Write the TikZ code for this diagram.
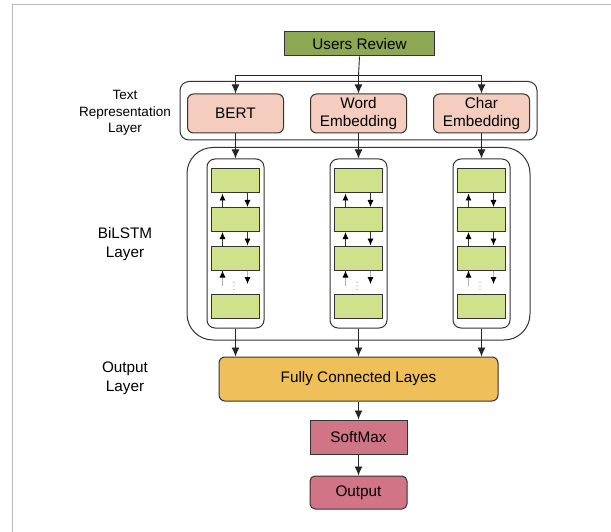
\documentclass[tikz,border=0pt]{standalone}
\usepackage{fontspec}
\setmainfont{Liberation Sans}
\usetikzlibrary{arrows.meta,positioning}

\definecolor{reviewgreen}{RGB}{141,168,82}
\definecolor{embpeach}{RGB}{244,205,190}
\definecolor{cellgreen}{RGB}{208,225,140}
\definecolor{fcorange}{RGB}{239,191,90}
\definecolor{outpink}{RGB}{208,116,134}
\definecolor{edgegray}{RGB}{51,51,51}

\begin{document}
\begin{tikzpicture}[x=1pt, y=-1pt,
  every node/.style={font=\fontsize{15.3}{18}\selectfont, text=black, align=center},
  box/.style={draw=edgegray, line width=1pt, inner sep=0pt},
  embbox/.style={box, rounded corners=6pt, fill=embpeach, minimum width=96pt, minimum height=39pt},
  cell/.style={box, fill=cellgreen, minimum width=48pt, minimum height=24pt},
  column/.style={draw=edgegray, line width=1pt, rounded corners=8pt, minimum width=57pt, minimum height=169pt, inner sep=0pt},
  smalllabel/.style={font=\fontsize{13.5}{16.7}\selectfont},
  layerlabel/.style={font=\fontsize{15.3}{19}\selectfont},
  arr/.style={-{Latex[length=9pt,width=8pt]}, line width=0.9pt, draw=black!85},
  cellarr/.style={-{Latex[length=7pt,width=6pt,black]}, line width=0.8pt, draw=black!80}]
  \useasboundingbox (0,0) rectangle (611,532);
  % frame
  \draw[gray!55, line width=1.8pt] (12.5,532) -- (12.5,4.5) -- (611,4.5);

  % layer names
  \node[smalllabel] (lbltext) at (125,113) {Text\\Representation\\Layer};
  \node[layerlabel] (lblbilstm) at (125,244) {BiLSTM\\Layer};
  \node[layerlabel] (lblout) at (125,378) {Output\\Layer};

  % input
  \node[box, fill=reviewgreen, minimum width=150pt, minimum height=24pt] (review) at (359.5,44) {Users Review};

  % text representation
  \draw[edgegray, line width=1pt, rounded corners=9pt] (180,81.5) rectangle (537,140);
  \node[embbox] (bert) at (235.5,113.5) {BERT};
  \node[embbox] (word) at (358.5,113.5) {Word\\Embedding};
  \node[embbox] (char) at (481.5,113.5) {Char\\Embedding};
  \coordinate (split) at (358.5,75.5);
  \draw[line width=0.9pt, black!85] (review.south) -- (split);
  \draw[arr] (split) -| (bert.north);
  \draw[arr] (split) -- (word.north);
  \draw[arr] (split) -| (char.north);

  % bilstm
  \draw[edgegray, line width=1pt, rounded corners=26pt] (187,147.5) rectangle (530,340);
  \foreach \x/\n in {235.5/1, 358.5/2, 481.5/3} {
    \node[column] (col\n) at (\x,243.5) {};
    \node[cell] (c\n-1) at (\x,181) {};
    \node[cell] (c\n-2) at (\x,219.5) {};
    \node[cell] (c\n-3) at (\x,258) {};
    \node[cell] (c\n-4) at (\x,306) {};
    % forward / backward passes
    \draw[cellarr] ([xshift=-13pt]c\n-2.north) -- ([xshift=-13pt]c\n-1.south);
    \draw[cellarr] ([xshift=12pt]c\n-1.south) -- ([xshift=12pt]c\n-2.north);
    \draw[cellarr] ([xshift=-13pt]c\n-3.north) -- ([xshift=-13pt]c\n-2.south);
    \draw[cellarr] ([xshift=12pt]c\n-2.south) -- ([xshift=12pt]c\n-3.north);
    \coordinate (up\n) at (\x-13,286);
    \coordinate (down\n) at (\x+12,284);
    \draw[cellarr, draw=gray!60] (up\n) -- ([xshift=-13pt]c\n-3.south);
    \draw[cellarr, draw=gray!60] ([xshift=12pt]c\n-3.south) -- (down\n);
    \foreach \d in {282.5,286,289.5}
      \fill[gray!80] (\x-1.5,\d) circle (0.7pt);
  }
  \draw[arr] (bert) -- (col1);
  \draw[arr] (word) -- (col2);
  \draw[arr] (char) -- (col3);

  % output
  \node[box, rounded corners=6pt, fill=fcorange, minimum width=279pt, minimum height=44pt] (fc) at (358.5,379) {Fully Connected Layes};
  \foreach \n in {1,2,3}
    \draw[arr] (col\n.south) -- (col\n.south |- fc.north);
  \node[box, fill=outpink, minimum width=97pt, minimum height=34pt] (softmax) at (358.5,437) {SoftMax};
  \node[box, rounded corners=5pt, fill=outpink, minimum width=97pt, minimum height=33pt] (output) at (358.5,492.5) {Output};
  \draw[arr] (fc) -- (softmax);
  \draw[arr] (softmax) -- (output);
\end{tikzpicture}
\end{document}
